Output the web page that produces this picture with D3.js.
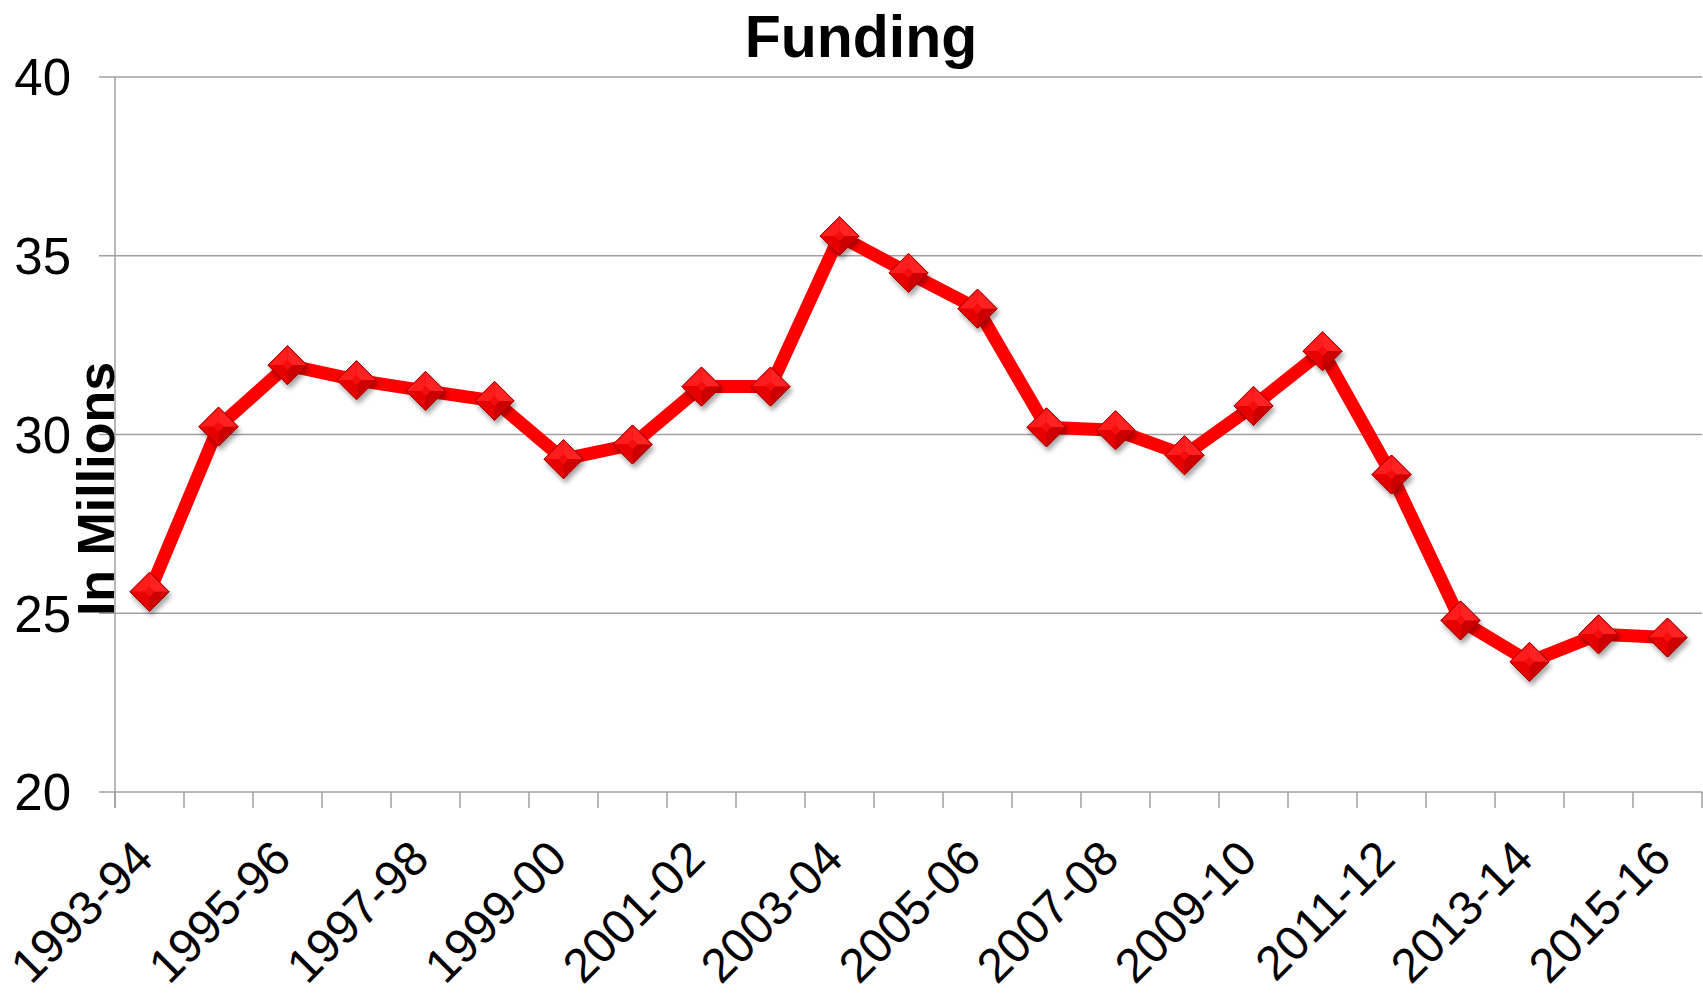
<!DOCTYPE html>
<html><head><meta charset="utf-8">
<script src="https://cdn.jsdelivr.net/npm/d3@7"></script>
<style>
body{margin:0;background:#fff;}
text{font-family:"Liberation Sans",Arial,sans-serif;fill:#000;}
</style>
</head><body>
<svg id="c" width="1703" height="997"></svg>
<script>
const categories = ["1993-94","1994-95","1995-96","1996-97","1997-98","1998-99","1999-00","2000-01","2001-02","2002-03","2003-04","2004-05","2005-06","2006-07","2007-08","2008-09","2009-10","2010-11","2011-12","2012-13","2013-14","2014-15","2015-16"];
const funding = [25.6,30.22,31.94,31.52,31.22,30.94,29.31,29.72,31.34,31.34,35.55,34.52,33.52,30.2,30.12,29.42,30.8,32.33,28.88,24.8,23.64,24.41,24.32];
const yTicks = [20,25,30,35,40];
const title = "Funding";
const yTitle = "In Millions";

const svg = d3.select("#c");
const L = 115, R = 1702, T = 77, B = 792;

const x = d3.scaleBand().domain(categories).range([L, R]).padding(0);
const y = d3.scaleLinear().domain([20, 40]).range([B, T]);

const defs = svg.append("defs");
const f = defs.append("filter").attr("id","sh").attr("x","-50%").attr("y","-50%").attr("width","200%").attr("height","200%");
f.append("feDropShadow").attr("dx",2).attr("dy",4).attr("stdDeviation",2.5).attr("flood-color","#000").attr("flood-opacity",0.35);

// gridlines
svg.append("g").selectAll("line").data(yTicks).join("line")
  .attr("x1", L - 16).attr("x2", R).attr("y1", d => y(d)).attr("y2", d => y(d))
  .attr("stroke", "#a0a0a0").attr("stroke-width", 1.5);

// y axis line
svg.append("line").attr("x1", L).attr("x2", L).attr("y1", y(40)).attr("y2", y(20) + 16)
  .attr("stroke", "#a0a0a0").attr("stroke-width", 1.5);

// y tick labels
svg.append("g").selectAll("text").data(yTicks).join("text")
  .attr("x", 71).attr("y", d => y(d)).attr("dy", "0.36em")
  .attr("text-anchor", "end").style("font-size", "51px")
  .text(d => d);

// x ticks at band boundaries
const bounds = categories.map(c => x(c)).concat([R]);
svg.append("g").selectAll("line").data(bounds).join("line")
  .attr("x1", d => d).attr("x2", d => d).attr("y1", B).attr("y2", B + 16)
  .attr("stroke", "#a0a0a0").attr("stroke-width", 1.5);

// x labels
svg.append("g").selectAll("text").data(categories.filter((c, i) => i % 2 === 0)).join("text")
  .attr("transform", c => `translate(${x(c) + x.bandwidth()/2 + 6},${B + 69}) rotate(-45)`)
  .attr("text-anchor", "end").style("font-size", "48px")
  .text(c => c);

// title
svg.append("text").attr("x", 861).attr("y", 57).attr("text-anchor", "middle")
  .style("font-size", "59px").style("font-weight", "bold").text(title);

// y title
svg.append("text").attr("transform", `translate(114,489) rotate(-90)`)
  .attr("text-anchor", "middle").style("font-size", "52px").style("font-weight", "bold").text(yTitle);

// line
const cx = (d, i) => x(categories[i]) + x.bandwidth()/2;
const line = d3.line().x((d, i) => cx(d, i)).y(d => y(d));
svg.append("path").datum(funding).attr("d", line)
  .attr("fill", "none").attr("stroke", "#ff0000").attr("stroke-width", 13).attr("stroke-linejoin", "round");

// markers (beveled diamonds)
const r = 19.5, k = 5;
const m = svg.append("g").selectAll("g").data(funding).join("g")
  .attr("transform", (d, i) => `translate(${cx(d, i)},${y(d)})`)
  .attr("filter", "url(#sh)");
m.append("path").attr("d", `M0,${-r}L${r},0L0,${r}L${-r},0Z`).attr("fill", "#e00000").attr("stroke", "#a80000").attr("stroke-width", 1);
const facets = [
  {d: `M0,${-r}L${r},0L${k},0L0,${-k}Z`, c: "#ff2424"},
  {d: `M0,${-r}L0,${-k}L${-k},0L${-r},0Z`, c: "#ff1a1a"},
  {d: `M${-r},0L${-k},0L0,${k}L0,${r}Z`, c: "#e60000"},
  {d: `M${r},0L0,${r}L0,${k}L${k},0Z`, c: "#cc0000"},
  {d: `M0,${-k}L${k},0L0,${k}L${-k},0Z`, c: "#f50a0a"}
];
facets.forEach(fc => m.append("path").attr("d", fc.d).attr("fill", fc.c));
m.append("path").attr("d", `M0,${-r}L${r},0L0,${r}L${-r},0Z`).attr("fill", "none").attr("stroke", "#a80000").attr("stroke-width", 1);
</script>
</body></html>
